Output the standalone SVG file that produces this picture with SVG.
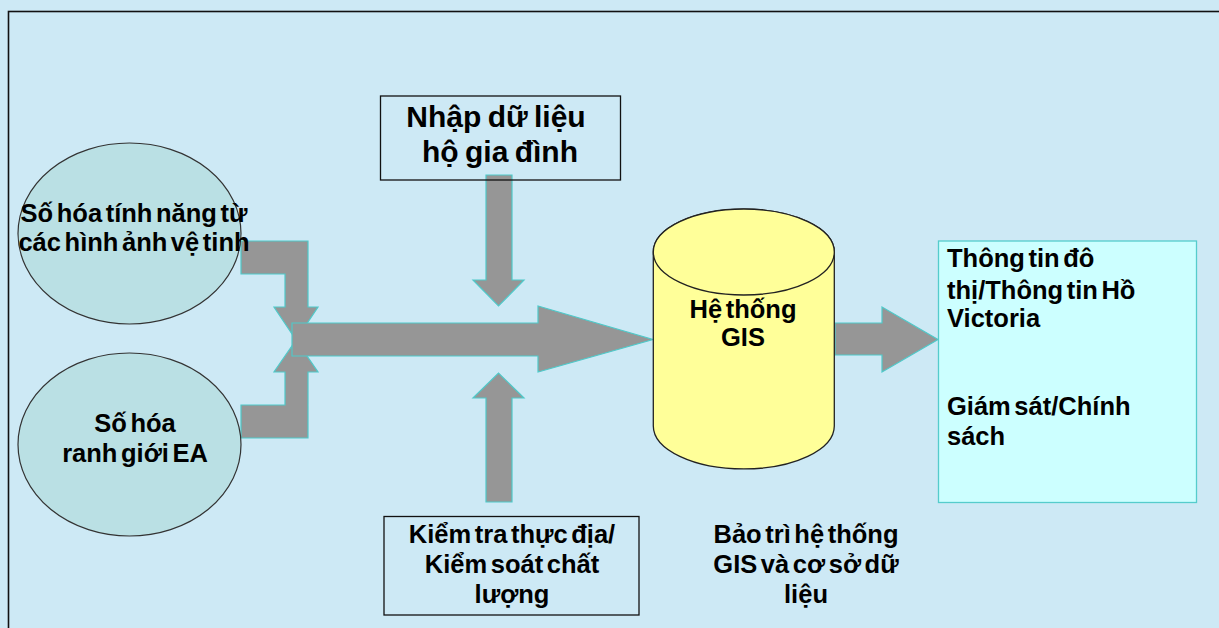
<svg xmlns="http://www.w3.org/2000/svg" width="1219" height="628" viewBox="0 0 1219 628">
  <style>
    .lbl { font-family: "Liberation Sans", Arial, sans-serif; font-weight: bold; font-size: 25.5px; fill: #000; word-spacing: -3.5px; }
    .big { font-size: 30px; word-spacing: -2px; }
    .mid { text-anchor: middle; }
    .oval { fill: #BAE0E4; stroke: #333; stroke-width: 1.2; }
    .box { fill: none; stroke: #111; stroke-width: 1.3; }
    .flow { fill: #969696; stroke: #4FC9C9; stroke-width: 1.2; stroke-linejoin: miter; }
    .drum { fill: #FFFF99; stroke: #222; stroke-width: 1.3; }
  </style>

  <!-- page background and frame -->
  <rect x="0" y="0" width="1219" height="628" fill="#CDE9F5"/>
  <rect x="8.5" y="11.5" width="1300" height="700" fill="none" stroke="#111" stroke-width="1.6"/>

  <!-- flow arrows -->
  <g id="connectors">
    <!-- bent arrow from satellite-image digitising -->
    <polygon class="flow" points="241,241 308,241 308,307 318,307 296,340 274,307 285,307 285,274 241,274"/>
    <!-- bent arrow from EA boundary digitising -->
    <polygon class="flow" points="241,438 308,438 308,372 318,372 296,340 274,372 285,372 285,405 241,405"/>
    <!-- main arrow into the GIS -->
    <polygon class="flow" points="292,323 538,323 538,306 653,339.5 538,372 538,356 292,356"/>
    <!-- household data entry down arrow -->
    <polygon class="flow" points="486,175 512,175 512,280 524,280 498.5,306 473,280 486,280"/>
    <!-- field check up arrow -->
    <polygon class="flow" points="486,502 512,502 512,398 524,398 498.5,373 473,398 486,398"/>
    <!-- output arrow -->
    <polygon class="flow" points="835,323 882,323 882,307 938,339.5 882,372 882,355 835,355"/>
  </g>

  <g id="node-satellite">
    <ellipse class="oval" cx="129.5" cy="233.5" rx="111.5" ry="90.5"/>
    <text class="lbl mid" x="134" y="222">Số hóa tính năng từ</text>
    <text class="lbl mid" x="134" y="251">các hình ảnh vệ tinh</text>
  </g>

  <g id="node-ea">
    <ellipse class="oval" cx="129.5" cy="444.5" rx="111.5" ry="91.5"/>
    <text class="lbl mid" x="135" y="432">Số hóa</text>
    <text class="lbl mid" x="135" y="462">ranh giới EA</text>
  </g>

  <g id="node-household">
    <rect class="box" x="380.5" y="96" width="240" height="84"/>
    <text class="lbl big mid" x="496" y="127">Nhập dữ liệu</text>
    <text class="lbl big mid" x="500" y="162">hộ gia đình</text>
  </g>

  <g id="node-fieldcheck">
    <rect class="box" x="384" y="516.5" width="255" height="98.5"/>
    <text class="lbl mid" x="512" y="543">Kiểm tra thực địa/</text>
    <text class="lbl mid" x="512" y="573">Kiểm soát chất</text>
    <text class="lbl mid" x="512" y="603">lượng</text>
  </g>

  <g id="node-gis">
    <path class="drum" d="M653.3,252 V426 A90.5,43 0 0 0 834.3,426 V252 A90.5,43 0 0 0 653.3,252 Z"/>
    <ellipse class="drum" cx="743.8" cy="252" rx="90.5" ry="43"/>
    <text class="lbl mid" x="743" y="318">Hệ thống</text>
    <text class="lbl mid" x="743" y="346">GIS</text>
  </g>

  <g id="node-maintenance">
    <text class="lbl mid" x="806" y="543">Bảo trì hệ thống</text>
    <text class="lbl mid" x="806" y="573">GIS và cơ sở dữ</text>
    <text class="lbl mid" x="806" y="603">liệu</text>
  </g>

  <g id="node-output">
    <rect x="938.5" y="241" width="258" height="261.5" fill="#CCFFFF" stroke="#55CCCC" stroke-width="1.3"/>
    <text class="lbl" x="947" y="267">Thông tin đô</text>
    <text class="lbl" x="947" y="299">thị/Thông tin Hồ</text>
    <text class="lbl" x="947" y="327">Victoria</text>
    <text class="lbl" x="947" y="415">Giám sát/Chính</text>
    <text class="lbl" x="947" y="445">sách</text>
  </g>
</svg>
